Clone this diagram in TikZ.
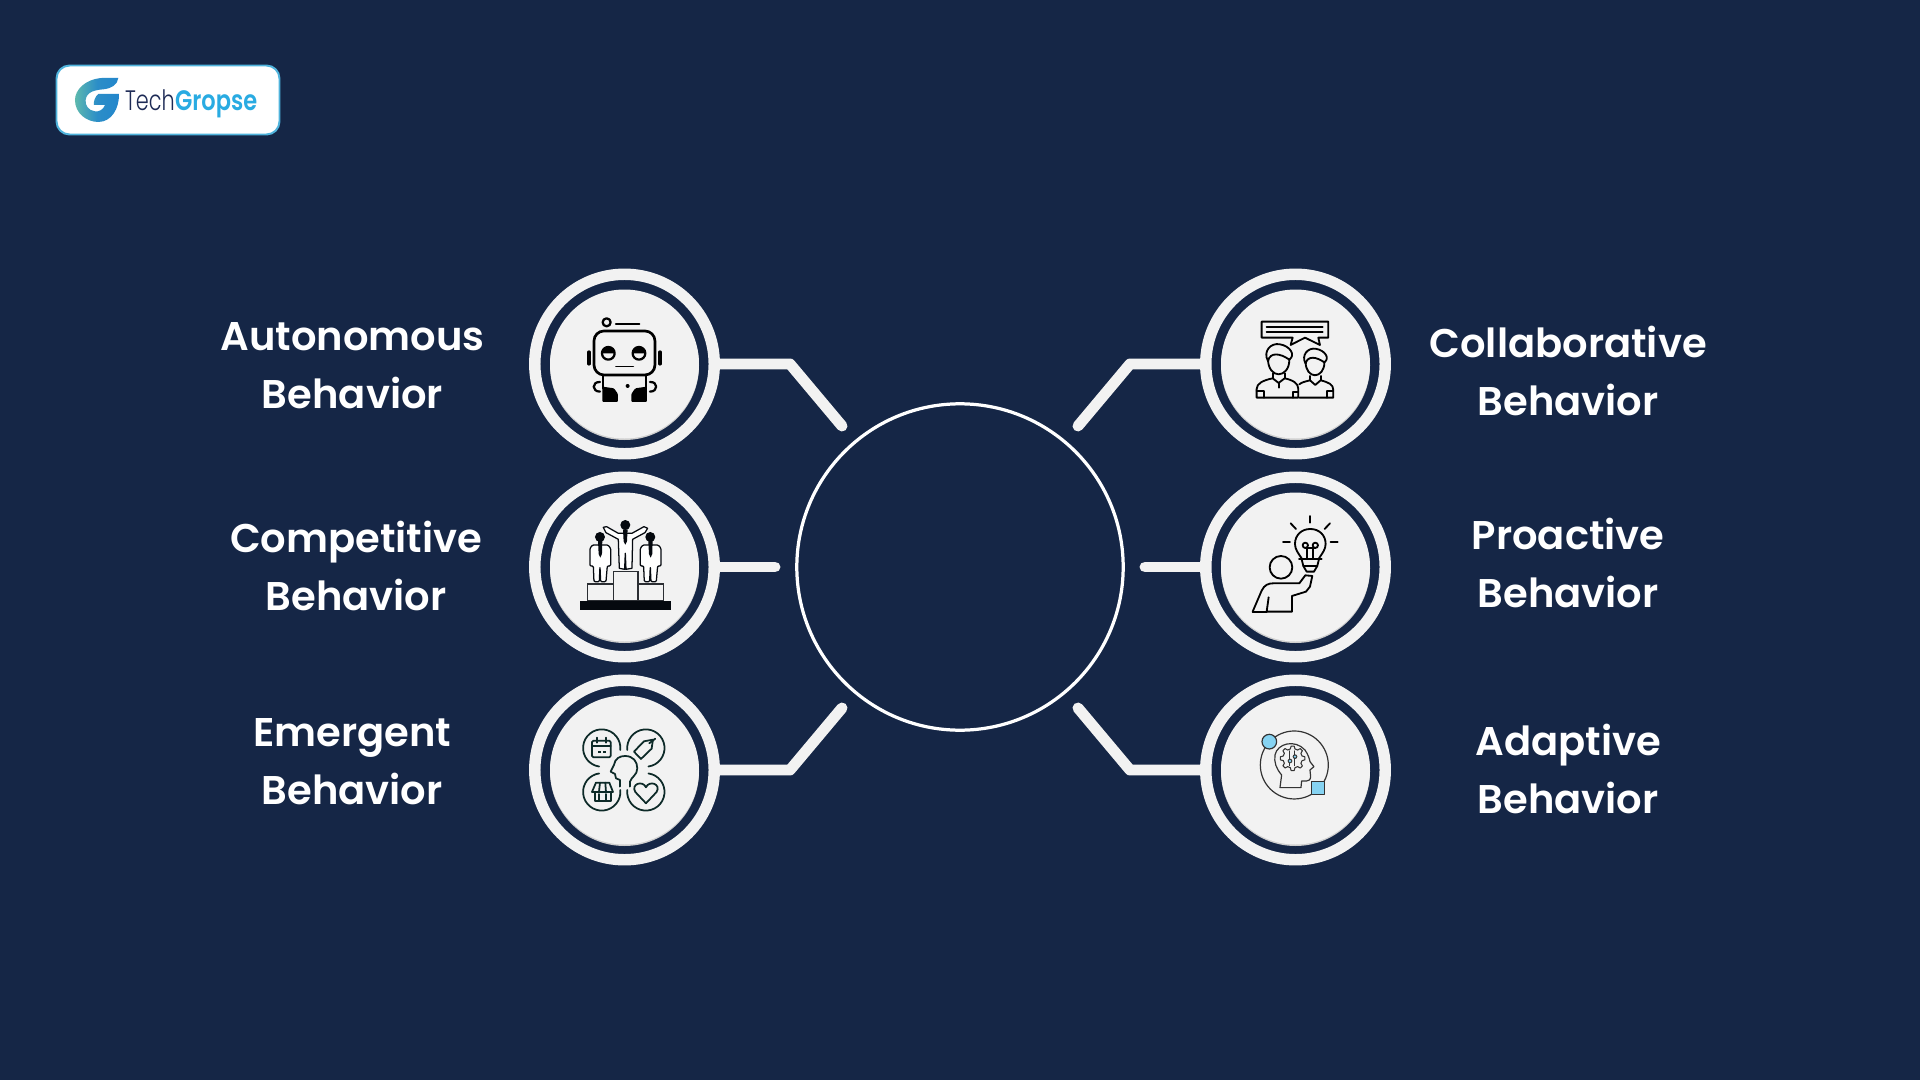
\documentclass[tikz,border=0pt]{standalone}
\usepackage{fontspec}
\setmainfont{Poppins}[BoldFont={Poppins SemiBold}]
\newfontfamily\logolight{Poppins Light}[FakeStretch=0.74]
\newfontfamily\logobold{Poppins SemiBold}[FakeStretch=0.80]
\usetikzlibrary{calc}
\definecolor{bgnavy}{HTML}{152646}
\definecolor{ringw}{HTML}{F2F2F2}
\definecolor{discsh}{HTML}{CFCFCF}
\definecolor{logob}{HTML}{4FB3DC}
\definecolor{techn}{HTML}{1D2A55}
\definecolor{gropsec}{HTML}{29ABE2}
\definecolor{gteal}{HTML}{5DB9AE}
\definecolor{gblue}{HTML}{2386CC}
\definecolor{greenk}{HTML}{0D2A28}
\definecolor{adk}{HTML}{333333}
\definecolor{adblue}{HTML}{86D3F2}
\definecolor{podk}{HTML}{05090F}
\tikzset{
  ring/.style={circle,draw=ringw,line width=16.3pt,minimum size=8.975cm,inner sep=0pt},
  disc/.style={circle,fill=ringw,minimum size=7.45cm,inner sep=0pt},
  discshadow/.style={circle,fill=discsh,minimum size=7.45cm,inner sep=0pt},
  link/.style={draw=ringw,line width=15.6pt,line cap=round,line join=round},
  hubring/.style={circle,draw=white,line width=4.6pt,minimum size=16.32cm,inner sep=0pt},
  label/.style={font=\bfseries\fontsize{57}{82.5}\selectfont,text=white,align=center,inner sep=0pt},
  zoomed/.style={x=0.016667cm,y=-0.016667cm},
  ico/.style={draw=black,line width=3.2pt,line cap=round,line join=round},
}
\begin{document}
\begin{tikzpicture}[x=0.05cm,y=-0.05cm]
\useasboundingbox[fill=bgnavy] (0,0) rectangle (1920,1080);

% logo
\node[draw=logob,fill=white,line width=2.8pt,rounded corners=0.65cm,minimum width=11.15cm,minimum height=3.45cm,inner sep=0pt] (logo) at (168,100) {};
\begin{scope}[shift={(40,50)},zoomed]
\path[left color=gteal,right color=gblue,middle color=gblue!85!gteal]
 (235,84) -- (185,84) .. controls (135,88) and (105,120) .. (105,150)
 .. controls (105,190) and (140,216) .. (175,216)
 .. controls (215,216) and (238,175) .. (237,132)
 -- (175,132) .. controls (165,140) and (160,155) .. (162,165)
 -- (195,165) .. controls (190,180) and (175,186) .. (165,184)
 .. controls (145,182) and (135,165) .. (137,150)
 .. controls (140,125) and (165,120) .. (190,118)
 .. controls (215,115) and (232,105) .. (235,84) -- cycle;
\end{scope}
\node[anchor=base west,inner sep=0pt,text=techn,font=\logolight\fontsize{40}{40}\selectfont] (tech) at (125,110) {Tech};
\node[anchor=base west,inner sep=0pt,text=gropsec,font=\logobold\fontsize{40}{40}\selectfont] (gropse) at (tech.base east) {Gropse};

% hub
\node[hubring] (hub) at (960,567) {};

% rings and discs
\foreach \nm/\x/\y in {a/624.5/364,b/624.5/567,c/624.5/770,d/1295.5/364,e/1295.5/567,f/1295.5/770}{
  \node[discshadow] (\nm s) at (\x,\y+1.5) {};
  \node[disc] (\nm d) at (\x,\y) {};
  \node[ring] (\nm) at (\x,\y) {};
}
% connectors
\coordinate (a1) at (790,364); \coordinate (a2) at (842,426);
\coordinate (c1) at (790,770); \coordinate (c2) at (842,708);
\coordinate (d1) at (1130,364); \coordinate (d2) at (1078,426);
\coordinate (f1) at (1130,770); \coordinate (f2) at (1078,708);
\coordinate (b1) at (775,567); \coordinate (e1) at (1145,567);
\draw[link] (a.east) -- (a1) -- (a2);
\draw[link] (c.east) -- (c1) -- (c2);
\draw[link] (b.east) -- (b1);
\draw[link] (d.west) -- (d1) -- (d2);
\draw[link] (f.west) -- (f1) -- (f2);
\draw[link] (e.west) -- (e1);

% labels
\node[label] (la) at (352.5,365.2) {Autonomous\\Behavior};
\node[label] (lb) at (356.2,566) {Competitive\\Behavior};
\node[label] (lc) at (352.2,761.2) {Emergent\\Behavior};
\node[label] (ld) at (1568.2,370.8) {Collaborative\\Behavior};
\node[label] (le) at (1568.2,562.8) {Proactive\\Behavior};
\node[label] (lf) at (1568.2,768.8) {Adaptive\\Behavior};

% robot
\begin{scope}[shift={(520,260)},zoomed]
\draw[ico] (260,187) circle (12);
\draw[ico] (288,192) -- (358,192);
\draw[ico,line width=3.8pt,rounded corners=0.5cm] (222,213) rectangle (405,345);
\draw[ico] (265,280) circle (19);
\draw[ico] (357,280) circle (19);
\fill (246,280) arc[start angle=180,end angle=360,radius=19] -- cycle;
\fill (338,280) arc[start angle=180,end angle=360,radius=19] -- cycle;
\draw[ico,line width=2.4pt] (288,320) -- (340,320);
\draw[ico,line width=4.6pt] (207,276) -- (207,312);
\draw[ico,line width=4.6pt] (420,276) -- (420,312);
\draw[ico] (250,345) -- (250,385);
\draw[ico] (378,345) -- (378,385);
\fill (323,378) circle (6);
\draw[ico] (240,366) .. controls (215,365) and (215,395) .. (240,395);
\draw[ico] (390,366) .. controls (415,365) and (415,395) .. (390,395);
\fill[rounded corners=1.5pt] (247,380) -- (282,385) -- (294,402) -- (294,426) -- (247,426) -- cycle;
\fill[rounded corners=1.5pt] (381,380) -- (346,385) -- (334,402) -- (334,426) -- (381,426) -- cycle;
\end{scope}

% podium
\begin{scope}[shift={(520,470)},zoomed]
\fill[podk] (180,392) rectangle (452,419);
\draw[podk!85!white,line width=2pt,fill=ringw] (203,342) rectangle (280,392);
\draw[podk!85!white,line width=2pt,fill=ringw] (354,342) rectangle (430,392);
\draw[podk!85!white,line width=2pt,fill=ringw] (280,305) rectangle (354,392);
\draw[podk,line width=1.8pt,line join=round,fill=white] (250,172) -- (260,170) -- (295,190) -- (336,190) -- (372,170) -- (383,175) -- (375,188) -- (338,208) -- (336,295) -- (318,298) -- (316,250) -- (314,298) -- (298,295) -- (295,208) -- (258,188) -- cycle;
\fill[podk] (316,165) circle (15);
\fill[podk] (309,178) -- (323,178) -- (321,214) -- (316,224) -- (311,214) -- cycle;
\foreach \dx in {0,151}{
 \draw[podk,line width=1.8pt,line join=round,fill=white,rounded corners=1.5pt] (218+\dx,225) -- (264+\dx,225) -- (272+\dx,235) -- (272+\dx,288) -- (262+\dx,288) -- (258+\dx,335) -- (242+\dx,335) -- (240+\dx,290) -- (238+\dx,335) -- (222+\dx,335) -- (220+\dx,288) -- (210+\dx,288) -- (210+\dx,235) -- cycle;
 \fill[podk] (240+\dx,201) circle (15);
 \fill[podk] (234+\dx,212) -- (247+\dx,212) -- (246+\dx,252) -- (241+\dx,263) -- (236+\dx,252) -- cycle;
}
\end{scope}

% emergent
\begin{scope}[shift={(520,670)},zoomed]
\tikzset{ge/.style={draw=greenk,line width=2.5pt,line cap=round,line join=round}}
\draw[ge] (301,240) arc[start angle=6,end angle=-262,radius=56];
\draw[ge] (322,240) arc[start angle=174,end angle=442,radius=56];
\draw[ge] (301,360) arc[start angle=-6,end angle=262,radius=56];
\draw[ge] (322,360) arc[start angle=186,end angle=-82,radius=56];
\draw[ge] (300,350) -- (300,330) -- (288,325) -- (285,312) -- (272,305) -- (282,285) .. controls (285,265) and (300,258) .. (315,258) .. controls (340,258) and (352,275) .. (352,295) .. controls (352,315) and (335,320) .. (330,335) -- (330,350);
% calendar
\draw[ge,rounded corners=2pt] (216,212) rectangle (272,262);
\draw[ge] (216,228) -- (272,228);
\draw[ge] (232,203) -- (232,218); \draw[ge] (257,203) -- (257,218);
\fill[greenk] (235,242) rectangle (243,248); \fill[greenk] (250,242) rectangle (258,248);
% tag
\draw[ge] (342,245) -- (372,214) -- (399,209) -- (395,236) -- (363,267) -- cycle;
\draw[ge] (388,220) -- (406,206);
% store
\draw[ge] (228,338) -- (268,338) -- (279,366) -- (216,366) -- cycle;
\draw[ge] (224,366) -- (224,392) -- (272,392) -- (272,366);
\draw[ge] (240,338) -- (237,366); \draw[ge] (256,338) -- (258,366);
\draw[ge] (238,372) -- (238,392); \draw[ge] (258,372) -- (258,392);
% heart
\draw[ge] (378,400) -- (346,366) .. controls (332,342) and (368,330) .. (378,352) .. controls (388,330) and (424,342) .. (410,366) -- cycle;
\end{scope}

% collaborative
\begin{scope}[shift={(1200,265)},zoomed]
\tikzset{cl/.style={draw=black,line width=2.6pt,line join=round,line cap=round}}
\draw[cl] (185,170) -- (385,170) -- (385,218) -- (355,218) -- (360,240) -- (315,218) -- (272,240) -- (278,218) -- (185,218) -- cycle;
\draw[cl] (200,186) -- (368,186); \draw[cl] (200,202) -- (368,202);
% right person
\draw[cl] (298,398) -- (400,398) -- (400,375) .. controls (400,358) and (385,352) .. (362,346) -- (346,360) -- (330,346) .. controls (315,350) and (305,352) .. (298,358);
\begin{scope}[shift={(345,293)},scale=0.88]
\draw[cl] (-32,-3) .. controls (-32,27) and (-16,43) .. (0,43) .. controls (16,43) and (32,27) .. (32,0);
\draw[cl] (-32,3) .. controls (-48,-25) and (-24,-53) .. (4,-47) .. controls (34,-42) and (52,-15) .. (32,-1);
\draw[cl] (-32,3) .. controls (-25,-25) and (5,-20) .. (32,-1);
\end{scope}
\draw[cl] (330,333) -- (330,346); \draw[cl] (362,333) -- (362,346);
\draw[cl] (382,378) -- (382,398); \draw[cl] (382,378) -- (400,378);
% left person
\draw[cl,fill=ringw] (170,398) -- (170,372) .. controls (170,355) and (190,346) .. (218,340) -- (236,354) -- (254,340) .. controls (280,346) and (295,355) .. (295,372) -- (295,398) -- cycle;
\begin{scope}[shift={(236,285)}]
\draw[cl] (-32,-3) .. controls (-32,27) and (-16,43) .. (0,43) .. controls (16,43) and (32,27) .. (32,0);
\draw[cl] (-32,3) .. controls (-48,-25) and (-24,-53) .. (4,-47) .. controls (34,-42) and (52,-15) .. (32,-1);
\draw[cl] (-32,3) .. controls (-25,-25) and (5,-20) .. (32,-1);
\end{scope}
\draw[cl] (218,325) -- (218,340); \draw[cl] (254,325) -- (254,340);
\draw[cl] (170,378) -- (192,378) -- (192,398);
\draw[cl] (295,380) -- (278,380) -- (278,398);
\draw[cl] (236,354) -- (236,368);
\end{scope}

% proactive
\begin{scope}[shift={(1200,470)},zoomed]
\tikzset{pr/.style={draw=black,line width=2.6pt,line join=round,line cap=round}}
\draw[pr] (331,138) -- (331,158);
\draw[pr] (272,160) -- (288,177);
\draw[pr] (390,160) -- (374,177);
\draw[pr] (249,217) -- (270,217);
\draw[pr] (392,217) -- (413,217);
\draw[pr] (305,265) .. controls (295,250) and (285,238) .. (285,222) .. controls (285,195) and (305,177) .. (331,177) .. controls (357,177) and (377,195) .. (377,222) .. controls (377,238) and (367,250) .. (357,265);
\draw[pr] (297,268) -- (365,268);
\draw[pr] (305,268) -- (310,288) -- (352,288) -- (357,268);
\draw[pr] (310,288) -- (320,305) -- (342,305) -- (352,288);
\draw[pr] (316,226) circle (8);
\draw[pr] (346,226) circle (8);
\draw[pr] (322,232) -- (322,266);
\draw[pr] (340,232) -- (340,266);
\draw[pr] (316,234) -- (346,234);
\draw[pr] (243,292) circle (34);
\draw[pr] (158,425) -- (185,362) .. controls (193,345) and (205,340) .. (220,340) -- (298,340) -- (316,316) -- (337,318) -- (330,350) -- (318,365) -- (276,378) -- (276,425) -- (200,425) -- (206,382);
\draw[pr] (158,425) -- (200,425);
\end{scope}

% adaptive
\begin{scope}[shift={(1200,675)},zoomed]
\tikzset{ad/.style={draw=adk,line width=1.7pt,line join=round,line cap=round}}
\draw[ad] (283,270) circle (102);
\draw[ad,fill=adblue] (208,200) circle (22);
\draw[ad,fill=adblue] (335,320) rectangle (373,358);
\draw[ad] (240,338) -- (245,300) .. controls (228,280) and (222,262) .. (225,240) .. controls (232,205) and (285,192) .. (315,225) .. controls (325,240) and (328,250) .. (330,260) -- (342,275) -- (330,285) -- (332,305) .. controls (332,315) and (325,318) .. (320,318) -- (305,318) -- (303,338) -- cycle;
\begin{scope}[shift={(278,250)}]
\draw[ad,line width=1.5pt] (7:37)
 \foreach \a in {0,45,...,315}{
  -- ({\a+7}:37) -- ({\a+14}:29) -- ({\a+31}:29) -- ({\a+38}:37)
 } -- cycle;
\end{scope}
\draw[ad,line width=1.4pt] (270,228) -- (270,272); \draw[ad,line width=1.4pt] (285,228) -- (285,272);
\fill[adk] (270,258) circle (7); \fill[adk] (285,245) circle (7);
\fill[adblue] (270,258) circle (4); \fill[adblue] (285,245) circle (4);
\end{scope}
\end{tikzpicture}
\end{document}
